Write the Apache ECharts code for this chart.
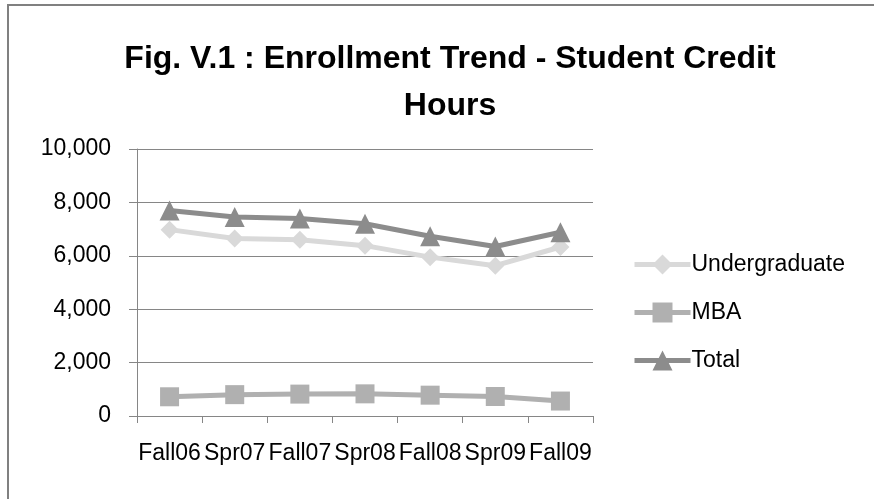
<!DOCTYPE html>
<html>
<head>
<meta charset="utf-8">
<script src="https://cdn.jsdelivr.net/npm/echarts@6/dist/echarts.min.js"></script>
<style>
  html, body { margin: 0; padding: 0; background: #fff; }
  #chart { width: 874px; height: 499px; }
</style>
</head>
<body>
<div id="chart"></div>
<script>
// 学期
const terms = ['Fall06', 'Spr07', 'Fall07', 'Spr08', 'Fall08', 'Spr09', 'Fall09'];
// 学分时数
const undergraduate = [6980, 6650, 6600, 6380, 5950, 5630, 6330];
const mba = [720, 800, 820, 830, 780, 730, 560];
const total = [7700, 7450, 7400, 7200, 6730, 6350, 6880];
const yTicks = [0, 2000, 4000, 6000, 8000, 10000];

const font = 'Liberation Sans';
const myChart = echarts.init(document.getElementById('chart'));

myChart.setOption({
    backgroundColor: '#fff',
    animation: false,
    title: {
        text: 'Fig. V.1 : Enrollment Trend - Student Credit\nHours',
        left: 445,
        top: 31,
        textAlign: 'center',
        textStyle: {
            fontFamily: font,
            fontWeight: 'bold',
            fontSize: 32,
            lineHeight: 47,
            color: '#000'
        }
    },
    // 外框只有上边和左边
    graphic: [{
        type: 'rect',
        shape: {x: 8, y: 5, width: 900, height: 520},
        style: {fill: 'none', stroke: '#808080', lineWidth: 2}
    }],
    legend: {
        orient: 'vertical',
        left: 627,
        top: 247,
        itemWidth: 56,
        itemHeight: 25,
        itemGap: 23,
        lineStyle: {width: 5},
        textStyle: {fontFamily: font, fontSize: 23, lineHeight: 25, color: '#000', padding: [0, 0, 0, -4]},
        data: ['Undergraduate', 'MBA', 'Total']
    },
    grid: {
        left: 137,
        right: 281,
        top: 149,
        bottom: 83,
        containLabel: false
    },
    xAxis: {
        type: 'category',
        data: terms,
        boundaryGap: true,
        axisLine: {lineStyle: {color: '#868686', width: 1}},
        axisTick: {show: true, length: 7, lineStyle: {color: '#868686'}},
        axisLabel: {fontFamily: font, fontSize: 23, color: '#000', margin: 26, interval: 0}
    },
    yAxis: {
        type: 'value',
        min: yTicks[0],
        max: yTicks[yTicks.length - 1],
        interval: 2000,
        axisLine: {show: true, lineStyle: {color: '#868686', width: 1}},
        axisTick: {show: true, length: 8, lineStyle: {color: '#868686'}},
        splitLine: {lineStyle: {color: '#868686', width: 1}},
        axisLabel: {
            fontFamily: font, fontSize: 23, color: '#000', margin: 26,
            formatter: v => v.toLocaleString('en-US')
        }
    },
    series: [
        {
            name: 'Undergraduate',
            type: 'line',
            data: undergraduate,
            symbol: 'diamond',
            symbolSize: 18,
            lineStyle: {width: 5, color: '#d9d9d9'},
            itemStyle: {color: '#d9d9d9'}
        },
        {
            name: 'MBA',
            type: 'line',
            data: mba,
            symbol: 'rect',
            symbolSize: 19,
            lineStyle: {width: 5, color: '#b0b0b0'},
            itemStyle: {color: '#b0b0b0'}
        },
        {
            name: 'Total',
            type: 'line',
            data: total,
            symbol: 'triangle',
            symbolSize: 20,
            lineStyle: {width: 5, color: '#8c8c8c'},
            itemStyle: {color: '#8c8c8c'}
        }
    ]
});
</script>
</body>
</html>
